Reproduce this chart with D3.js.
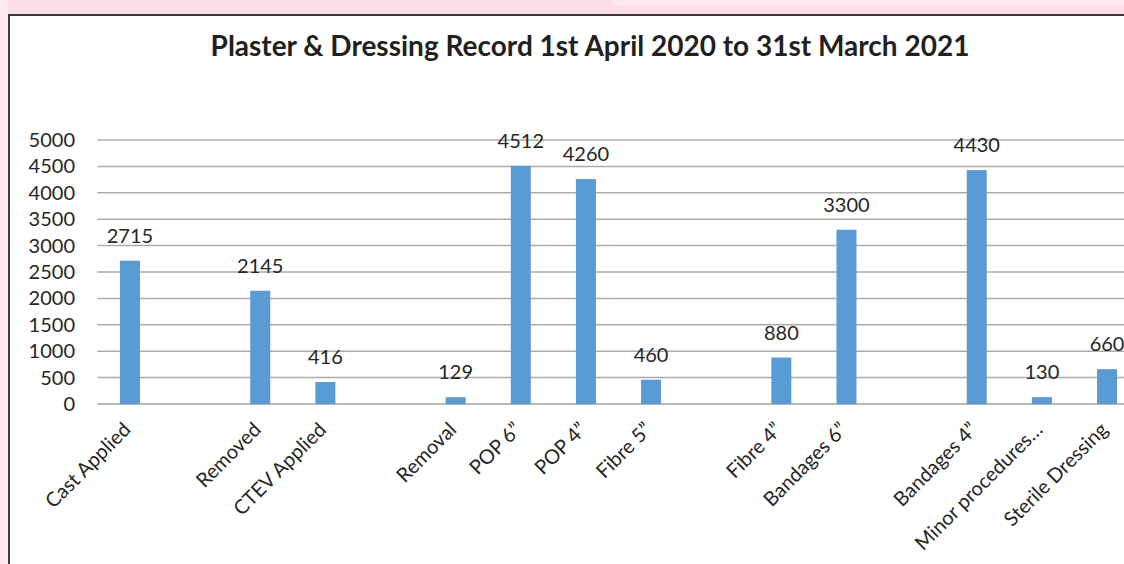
<!DOCTYPE html>
<html>
<head>
<meta charset="utf-8">
<script src="https://cdn.jsdelivr.net/npm/d3@7"></script>
<style>
  html, body { margin: 0; padding: 0; background: #ffffff; }
  svg { display: block; }
</style>
</head>
<body>
<svg id="chart" width="1124" height="564"></svg>
<script>
// Category slots along the x axis (blank slots stay empty)
const categories = [
  "Cast Applied", "", "Removed", "CTEV Applied", "", "Removal",
  "POP 6\u201D", "POP 4\u201D", "Fibre 5\u201D", "", "Fibre 4\u201D",
  "Bandages 6\u201D", "", "Bandages 4\u201D", "Minor procedures\u2026", "Sterile Dressing"
];
// Counts for each slot (null = no bar)
const counts = [
  2715, null, 2145, 416, null, 129,
  4512, 4260, 460, null, 880,
  3300, null, 4430, 130, 660
];
const yTicks = [0, 500, 1000, 1500, 2000, 2500, 3000, 3500, 4000, 4500, 5000];
const title = "Plaster & Dressing Record 1st April 2020 to 31st March 2021";

const W = 1124, H = 564;
const svg = d3.select("#chart");
const font = "Lato, 'Open Sans', sans-serif";

// page frame: pink margins and dark border
svg.append("rect").attr("x", 0).attr("y", 0).attr("width", W).attr("height", 15).attr("fill", "#fcdde8");
svg.append("path").attr("d", "M612,0 L1124,0 L1124,5 L618,5 Z").attr("fill", "#fdeaf1");
svg.append("rect").attr("x", 0).attr("y", 0).attr("width", 8).attr("height", H).attr("fill", "#fde9f0");
svg.append("line").attr("x1", 8).attr("x2", W).attr("y1", 15).attr("y2", 15)
  .attr("stroke", "#3d3d3d").attr("stroke-width", 2);
svg.append("line").attr("x1", 9).attr("x2", 9).attr("y1", 14).attr("y2", H)
  .attr("stroke", "#3d3d3d").attr("stroke-width", 2);

// scales
const x = d3.scaleBand()
  .domain(d3.range(categories.length))
  .range([97.4, 1139.6]);
const y = d3.scaleLinear().domain([0, 5000]).range([404, 140]);
const barW = x.bandwidth() * 0.307;

// title
svg.append("text")
  .attr("x", 590).attr("y", 56)
  .attr("text-anchor", "middle")
  .attr("font-family", font).attr("font-weight", "bold")
  .attr("font-size", 28).attr("fill", "#231f20")
  .text(title);

// gridlines
svg.append("g").selectAll("line").data(yTicks).join("line")
  .attr("x1", 97.4).attr("x2", W)
  .attr("y1", d => y(d)).attr("y2", d => y(d))
  .attr("stroke", d => d === 0 ? "#a0a0a0" : "#ababab")
  .attr("stroke-width", 1.5);

// y axis labels
const yAxis = d3.axisLeft(y).tickValues(yTicks).tickFormat(d3.format("d"))
  .tickSize(0).tickPadding(0);
const gy = svg.append("g").attr("transform", "translate(75,0)").call(yAxis);
gy.select(".domain").remove();
gy.selectAll("text")
  .attr("font-family", font).attr("font-size", 20).attr("fill", "#262626");

// bars
const data = counts.map((v, i) => ({ i, v })).filter(d => d.v !== null);
svg.append("g").selectAll("rect").data(data).join("rect")
  .attr("x", d => x(d.i) + x.bandwidth() / 2 - barW / 2)
  .attr("width", barW)
  .attr("y", d => y(d.v))
  .attr("height", d => y(0) - y(d.v))
  .attr("fill", "#5b9bd5");

// value labels
svg.append("g").selectAll("text").data(data).join("text")
  .attr("x", d => x(d.i) + x.bandwidth() / 2)
  .attr("y", d => y(d.v) - 18)
  .attr("text-anchor", "middle")
  .attr("font-family", font).attr("font-size", 20).attr("fill", "#262626")
  .text(d => d.v);

// category labels, rotated
const xAxis = d3.axisBottom(x).tickFormat(i => categories[i]).tickSize(0).tickPadding(0);
const gx = svg.append("g").attr("transform", "translate(0,404)").call(xAxis);
gx.select(".domain").remove();
gx.selectAll("text")
  .attr("font-family", font).attr("font-size", 20).attr("fill", "#262626")
  .attr("text-anchor", "end")
  .attr("dy", "0.35em")
  .attr("y", 0)
  .attr("transform", "translate(-3,22) rotate(-45)");
</script>
</body>
</html>
